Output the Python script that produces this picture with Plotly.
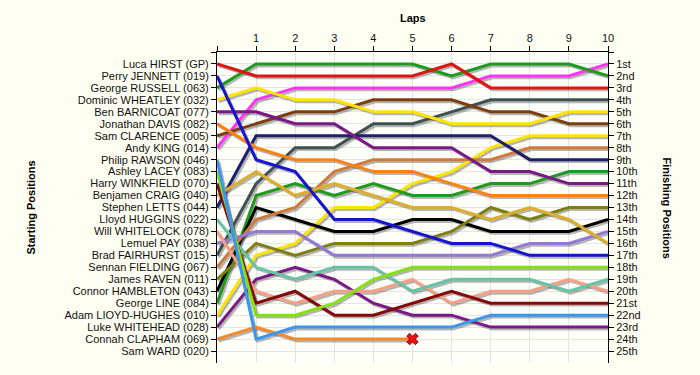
import plotly.graph_objects as go

laps = list(range(11))

drivers = [
    "Luca HIRST (GP)", "Perry JENNETT (019)", "George RUSSELL (063)",
    "Dominic WHEATLEY (032)", "Ben BARNICOAT (077)", "Jonathan DAVIS (082)",
    "Sam CLARENCE (005)", "Andy KING (014)", "Philip RAWSON (046)",
    "Ashley LACEY (083)", "Harry WINKFIELD (070)", "Benjamen CRAIG (040)",
    "Stephen LETTS (044)", "Lloyd HUGGINS (022)", "Will WHITELOCK (078)",
    "Lemuel PAY (038)", "Brad FAIRHURST (015)", "Sennan FIELDING (067)",
    "James RAVEN (011)", "Connor HAMBLETON (043)", "George LINE (084)",
    "Adam LIOYD-HUGHES (010)", "Luke WHITEHEAD (028)", "Connah CLAPHAM (069)",
    "Sam WARD (020)",
]

finish_labels = ["1st", "2nd", "3rd", "4th", "5th", "6th", "7th", "8th", "9th",
                 "10th", "11th", "12th", "13th", "14th", "15th", "16th", "17th",
                 "18th", "19th", "20th", "21st", "22nd", "23rd", "24th", "25th"]

lap_labels = ["", "1", "2", "3", "4", "5", "6", "7", "8", "9", "10"]

# position at laps 0..10 (lap 0 = grid position)
pos_hirst      = [1, 2, 2, 2, 2, 2, 1, 3, 3, 3, 3]
pos_jennett    = [2, 9, 10, 14, 14, 15, 16, 16, 17, 17, 17]
pos_russell    = [3, 1, 1, 1, 1, 1, 2, 1, 1, 1, 2]
pos_wheatley   = [4, 3, 4, 4, 5, 5, 6, 6, 6, 5, 5]
pos_barnicoat  = [5, 5, 6, 6, 8, 8, 8, 10, 10, 11, 11]
pos_davis      = [6, 8, 9, 9, 10, 10, 11, 12, 12, 12, 12]
pos_clarence   = [7, 6, 5, 5, 4, 4, 4, 5, 5, 6, 6]
pos_king       = [8, 4, 3, 3, 3, 3, 3, 2, 2, 2, 1]
pos_rawson     = [9, 24, 23, 23, 23, 23, 23, 22, 22, 22, 22]
pos_lacey      = [10, 22, 22, 21, 19, 18, 18, 18, 18, 18, 18]
pos_winkfield  = [11, 21, 20, 22, 22, 21, 20, 21, 21, 21, 21]
pos_craig      = [12, 10, 12, 11, 12, 13, 13, 14, 13, 14, 16]
pos_letts      = [13, 7, 7, 7, 7, 7, 7, 7, 9, 9, 9]
pos_huggins    = [14, 18, 19, 18, 18, 20, 19, 19, 19, 20, 19]
pos_whitelock  = [15, 20, 21, 20, 20, 19, 21, 20, 20, 19, 20]
pos_pay        = [16, 15, 15, 17, 17, 17, 17, 17, 16, 16, 15]
pos_fairhurst  = [17, 11, 8, 8, 6, 6, 5, 4, 4, 4, 4]
pos_fielding   = [18, 14, 13, 10, 9, 9, 9, 9, 8, 8, 8]
pos_raven      = [19, 16, 17, 16, 16, 16, 15, 13, 14, 13, 13]
pos_hambleton  = [20, 13, 14, 15, 15, 14, 14, 15, 15, 15, 14]
pos_line       = [21, 12, 11, 12, 11, 12, 12, 11, 11, 10, 10]
pos_lloyd      = [22, 17, 16, 13, 13, 11, 10, 8, 7, 7, 7]
pos_whitehead  = [23, 19, 18, 19, 21, 22, 22, 23, 23, 23, 23]
pos_clapham    = [24, 23, 24, 24, 24, 24]          # retired after lap 5
pos_ward       = []                                 # did not start

colors = [
    "#DD1515", "#1515D0", "#1E9A1E", "#FFE400", "#7A1888", "#FF8210",
    "#7C3E0E", "#FF33F2", "#3A95F0", "#84E010", "#840A0A", "#DDAE2C",
    "#1F1F6C", "#66C4A6", "#F6A086", "#9478D8", "#3E5050", "#D07A3A",
    "#7E7E12", "#000000", "#1E9A1E", "#FFE400", "#7A1888", "#F58A28",
    "#888888",
]

all_pos = [pos_hirst, pos_jennett, pos_russell, pos_wheatley, pos_barnicoat,
           pos_davis, pos_clarence, pos_king, pos_rawson, pos_lacey,
           pos_winkfield, pos_craig, pos_letts, pos_huggins, pos_whitelock,
           pos_pay, pos_fairhurst, pos_fielding, pos_raven, pos_hambleton,
           pos_line, pos_lloyd, pos_whitehead, pos_clapham, pos_ward]

retired = ["Connah CLAPHAM (069)"]

FONT = "Liberation Sans, Arial, sans-serif"

fig = go.Figure()

# drop shadows
for name, p in zip(drivers, all_pos):
    if not p:
        continue
    fig.add_trace(go.Scatter(
        x=[l + 0.045 for l in laps[:len(p)]], y=[v + 0.16 for v in p],
        mode="lines", line=dict(color="rgba(60,60,60,0.38)", width=3),
        hoverinfo="skip", showlegend=False))

# driver lines (draw from bottom of grid to top)
for name, p, c in reversed(list(zip(drivers, all_pos, colors))):
    if not p:
        continue
    fig.add_trace(go.Scatter(
        x=laps[:len(p)], y=p, mode="lines", name=name,
        line=dict(color=c, width=3), showlegend=False))

# retirement markers
for name, p in zip(drivers, all_pos):
    if name in retired and p:
        fig.add_trace(go.Scatter(
            x=[laps[len(p) - 1]], y=[p[-1]], mode="markers",
            marker=dict(symbol="x", size=10, color="#EE1111",
                        line=dict(color="#880000", width=1)),
            showlegend=False, hoverinfo="skip"))

# invisible trace for right axis
fig.add_trace(go.Scatter(x=[0], y=[1], yaxis="y2", mode="markers",
                         marker=dict(opacity=0), showlegend=False,
                         hoverinfo="skip"))

tick_font = dict(family=FONT, size=11, color="#111111")

fig.update_layout(
    width=700, height=375,
    margin=dict(l=217, r=92, t=52, b=12),
    paper_bgcolor="#FFFEF2",
    plot_bgcolor="#FFFFFA",
    font=dict(family=FONT, size=11, color="#111111"),
    xaxis=dict(
        side="top", range=[0, 10], tickvals=laps, ticktext=lap_labels,
        ticks="outside", ticklen=5, tickcolor="#000", showline=True,
        linecolor="#000", linewidth=1, showgrid=True, gridcolor="#E4E4E4",
        gridwidth=1, zeroline=False, tickfont=tick_font, fixedrange=True),
    yaxis=dict(
        range=[26, 0], tickvals=list(range(0, 26)),
        ticktext=[""] + drivers, ticks="outside", ticklen=5,
        tickcolor="#000", showline=True, linecolor="#000", linewidth=1,
        showgrid=True, gridcolor="#E4E4E4", gridwidth=1, zeroline=False,
        tickfont=tick_font, fixedrange=True),
    yaxis2=dict(
        overlaying="y", side="right", range=[26, 0],
        tickvals=list(range(0, 26)), ticktext=[""] + finish_labels,
        ticks="outside", ticklen=5, tickcolor="#000", showline=True,
        linecolor="#000", linewidth=1, showgrid=False, zeroline=False,
        tickfont=tick_font, fixedrange=True),
    annotations=[
        dict(text="<b>Laps</b>", xref="paper", yref="paper", x=0.5,
             y=1.11, xanchor="center", yanchor="middle", showarrow=False,
             font=dict(family=FONT, size=11, color="#000")),
        dict(text="<b>Starting Positions</b>", xref="paper", yref="paper",
             x=-0.478, y=0.5, xanchor="center", yanchor="middle",
             textangle=-90, showarrow=False,
             font=dict(family=FONT, size=11, color="#000")),
        dict(text="<b>Finishing Positions</b>", xref="paper", yref="paper",
             x=1.151, y=0.5, xanchor="center", yanchor="middle",
             textangle=90, showarrow=False,
             font=dict(family=FONT, size=11, color="#000")),
    ],
)

fig.write_html(
    "out.html",
    config={"displayModeBar": False},
    post_script="document.body.style.margin='0';"
                "document.body.style.background='#FFFEF2';")
